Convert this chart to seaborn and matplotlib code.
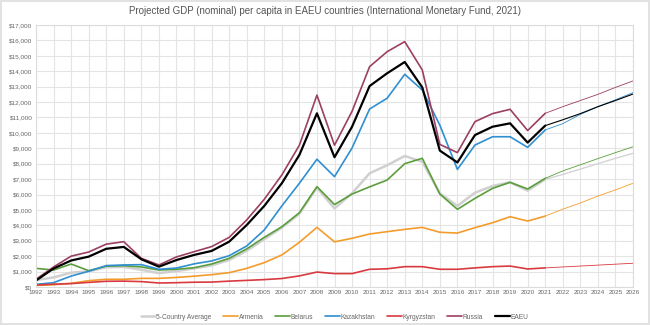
import matplotlib
matplotlib.use("Agg")
import matplotlib.pyplot as plt
import seaborn as sns
import pandas as pd
from matplotlib.ticker import FuncFormatter, MultipleLocator

years = list(range(1992, 2027))

avg5 = [450, 620, 930, 1020, 1280, 1300, 1120, 900, 1030, 1200, 1400, 1750, 2350, 3100, 3850, 4750,
        6450, 5100, 6080, 7380, 7900, 8500, 8130, 6080, 5260, 6120, 6550, 6800, 6250, 6990,
        7300, 7650, 8000, 8350, 8670]
armenia = [100, 150, 240, 410, 500, 500, 560, 560, 620, 700, 800, 930, 1210, 1580, 2080, 2900,
           3870, 2930, 3160, 3440, 3590, 3740, 3870, 3550, 3500, 3850, 4170, 4560, 4280, 4600,
           5050, 5450, 5900, 6300, 6730]
belarus = [1210, 1100, 1490, 1060, 1350, 1380, 1300, 1100, 1150, 1250, 1490, 1860, 2470, 3220, 3910, 4820,
           6510, 5350, 6030, 6500, 6940, 8000, 8350, 6030, 5040, 5750, 6400, 6790, 6360, 7050,
           7530, 7930, 8330, 8720, 9100]
kazakhstan = [170, 280, 710, 1020, 1390, 1430, 1450, 1150, 1230, 1500, 1690, 2030, 2660, 3700, 5260, 6730,
              8290, 7160, 9020, 11550, 12250, 13800, 12780, 10500, 7630, 9210, 9750, 9750, 9060, 10190,
              10600, 11200, 11700, 12150, 12610]
kyrgyzstan = [130, 180, 220, 300, 370, 380, 350, 260, 280, 310, 320, 380, 430, 480, 550, 720,
              970, 870, 870, 1150, 1180, 1320, 1320, 1150, 1150, 1240, 1320, 1360, 1170, 1240,
              1300, 1360, 1420, 1480, 1540]
russia = [500, 1300, 2000, 2270, 2780, 2940, 1860, 1430, 1950, 2290, 2620, 3220, 4350, 5690, 7270, 9200,
          12450, 9200, 11400, 14300, 15270, 15920, 14080, 9250, 8720, 10730, 11250, 11530, 10150, 11270,
          11700, 12100, 12500, 12950, 13370]
eaeu = [420, 1200, 1720, 1970, 2480, 2600, 1800, 1320, 1750, 2080, 2340, 2940, 4020, 5260, 6730, 8570,
        11270, 8420, 10400, 13040, 13870, 14600, 12950, 8850, 8080, 9860, 10400, 10620, 9370, 10470,
        10850, 11250, 11700, 12100, 12520]

series_names = ["5-Country Average", "Armenia", "Belarus", "Kazakhstan", "Kyrgyzstan", "Russia", "EAEU"]
series_values = [avg5, armenia, belarus, kazakhstan, kyrgyzstan, russia, eaeu]
colors = ["#d0d0d0", "#f39c2c", "#5a9e3c", "#2f8fd0", "#d93a40", "#9b3f63", "#000000"]
widths = [1.8, 1.2, 1.2, 1.2, 1.2, 1.2, 1.6]
last_actual = 2021

sns.set_theme(style="white")
plt.rcParams['font.family'] = ['Liberation Sans', 'DejaVu Sans']

fig = plt.figure(figsize=(6.5, 3.25), dpi=100)
fig.patch.set_facecolor("white")
fig.patch.set_edgecolor("#e2e2e2")
fig.patch.set_linewidth(1.5)
ax = fig.add_axes([36 / 650, 1 - 287 / 325, (633 - 36) / 650, (287 - 25) / 325])

rows = []
for name, vals in zip(series_names, series_values):
    for y, v in zip(years, vals):
        rows.append({"Year": y, "GDP": v, "Series": name})
df = pd.DataFrame(rows)

for name, col, lw in zip(series_names, colors, widths):
    d = df[df["Series"] == name]
    hist = d[d["Year"] <= last_actual]
    proj = d[d["Year"] >= last_actual]
    sns.lineplot(data=hist, x="Year", y="GDP", color=col, linewidth=lw, ax=ax, label=name)
    sns.lineplot(data=proj, x="Year", y="GDP", color=col, linewidth=max(lw * 0.5, 0.6), ax=ax)

ax.set_xlim(1992, 2026)
ax.set_ylim(0, 17000)
ax.xaxis.set_major_locator(MultipleLocator(1))
ax.yaxis.set_major_locator(MultipleLocator(1000))
ax.yaxis.set_major_formatter(FuncFormatter(lambda v, p: "${:,.0f}".format(v)))
ax.grid(True, color="#e4e4e4", linewidth=0.8)
ax.set_axisbelow(True)
for s in ax.spines.values():
    s.set_color("#dcdcdc")
    s.set_linewidth(0.8)
ax.tick_params(axis="both", labelsize=4.6, colors="#666666", length=0, pad=2.5)
ax.set_xlabel("")
ax.set_ylabel("")

handles, labels = ax.get_legend_handles_labels()
ax.legend(handles, labels, loc="center", bbox_to_anchor=(0.5, -0.115), ncol=7, frameon=False,
          fontsize=4.8, labelcolor="#666666", handlelength=2.2, handletextpad=0.1, columnspacing=1.8)

fig.text(0.5, 0.965, "Projected GDP (nominal) per capita in EAEU countries (International Monetary Fund, 2021)",
         ha="center", va="center", fontsize=7, color="#555555")

fig.savefig("out.png", dpi=100, facecolor=fig.get_facecolor(), edgecolor=fig.get_edgecolor())
